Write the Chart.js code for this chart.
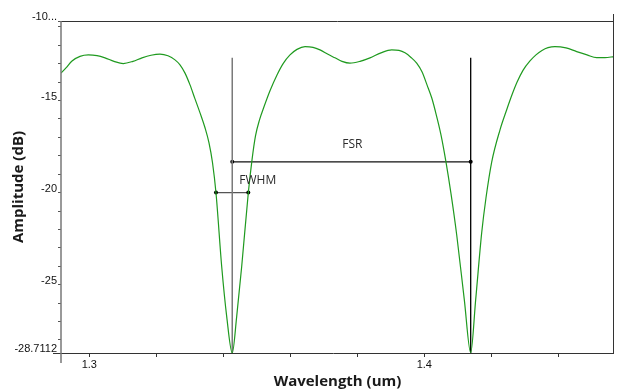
<!DOCTYPE html>
<html>
<head>
<meta charset="utf-8">
<script src="https://cdn.jsdelivr.net/npm/chart.js@4"></script>
<style>
  html, body { margin: 0; padding: 0; background: #fff; }
  #wrap { width: 622px; height: 392px; position: relative; }
</style>
</head>
<body>
<div id="wrap"><canvas id="myCanvas"></canvas></div>
<script>
// spectrum (um, dB)
const wavelength = [
    1.29155, 1.29304, 1.29484, 1.29722, 1.29970, 1.30230, 1.30469, 1.30737, 1.31015, 1.31304,
    1.31573, 1.31842, 1.32110, 1.32349, 1.32558, 1.32707, 1.32857, 1.33006, 1.33155, 1.33305,
    1.33454, 1.33573, 1.33678, 1.33782, 1.33952, 1.34101, 1.34267, 1.34400, 1.34549, 1.34746,
    1.34857, 1.34961, 1.35081, 1.35215, 1.35394, 1.35603, 1.35791, 1.35991, 1.36200, 1.36439,
    1.36678, 1.36887, 1.37125, 1.37334, 1.37543, 1.37782, 1.38081, 1.38379, 1.38707, 1.39027,
    1.39245, 1.39424, 1.39603, 1.39773, 1.39931, 1.40081, 1.40221, 1.40319, 1.40498, 1.40648,
    1.40797, 1.40967, 1.41194, 1.41385, 1.41534, 1.41713, 1.41842, 1.42012, 1.42260, 1.42460,
    1.42618, 1.42767, 1.42946, 1.43155, 1.43334, 1.43513, 1.43693, 1.43901, 1.44230, 1.44549,
    1.44857, 1.45146, 1.45394, 1.45663
];
const amplitude = [
    -13.51, -13.23, -12.85, -12.60, -12.52, -12.56, -12.68, -12.87, -12.99, -12.87,
    -12.68, -12.54, -12.48, -12.57, -12.79, -13.06, -13.51, -14.15, -14.91, -15.67,
    -16.48, -17.30, -18.38, -20.02, -24.01, -26.72, -28.71, -26.72, -24.01, -20.02,
    -18.22, -16.92, -16.05, -15.34, -14.47, -13.61, -12.98, -12.52, -12.22, -12.07,
    -12.11, -12.25, -12.49, -12.68, -12.87, -12.97, -12.87, -12.68, -12.41, -12.25,
    -12.28, -12.41, -12.66, -12.97, -13.44, -14.15, -14.85, -15.50, -16.86, -18.34,
    -20.06, -22.29, -25.81, -28.70, -25.81, -22.19, -20.28, -18.34, -16.59, -15.50,
    -14.69, -14.01, -13.36, -12.85, -12.52, -12.28, -12.13, -12.07, -12.14, -12.34,
    -12.52, -12.67, -12.67, -12.61
];

// annotation marks
const dip1 = [{x: 1.34267, y: -12.68}, {x: 1.34267, y: -28.7112}];
const dip2 = [{x: 1.41385, y: -12.68}, {x: 1.41385, y: -28.7112}];
const fsrArrow = [{x: 1.34267, y: -18.33}, {x: 1.41385, y: -18.33}];
const fwhmArrow = [{x: 1.33782, y: -20.0}, {x: 1.34746, y: -20.0}];
const labels = [
    {text: 'FSR', x: 1.3785, y: -17.4},
    {text: 'FWHM', x: 1.3503, y: -19.36}
];

// axes
const xMin = 1.29155, xMax = 1.45663;
const yMin = -28.7112, yMax = -10.68;
const xTicks = [1.30, 1.32, 1.34, 1.36, 1.38, 1.40, 1.42, 1.44];
const xLabels = ['1.3', '', '', '', '', '1.4', '', ''];
const yTicks = [-10.68, -11, -12, -13, -14, -15, -16, -17, -18, -19, -20,
    -21, -22, -23, -24, -25, -26, -27, -28, -28.7112];
const yLabels = ['-10...', '', '', '', '', '-15', '', '', '', '', '-20',
    '', '', '', '', '-25', '', '', '', '-28.7112'];

const tickFont = {family: 'Liberation Sans, Arial, sans-serif', size: 11};

// frame and annotation text
const framePlugin = {
    id: 'frame',
    afterDatasetsDraw(chart) {
        const {ctx, chartArea: a, scales} = chart;
        ctx.save();
        ctx.lineWidth = 1;
        ctx.strokeStyle = '#333';
        ctx.beginPath();
        ctx.moveTo(a.left, a.top + 0.5);
        ctx.lineTo(a.right, a.top + 0.5);
        ctx.moveTo(a.right - 0.5, a.top - 7);
        ctx.lineTo(a.right - 0.5, a.bottom);
        ctx.moveTo(a.left - 8, a.bottom + 0.5);
        ctx.lineTo(a.right, a.bottom + 0.5);
        ctx.stroke();
        ctx.strokeStyle = '#777';
        ctx.lineWidth = 1.5;
        ctx.beginPath();
        ctx.moveTo(a.left, a.top);
        ctx.lineTo(a.left, a.bottom + 10);
        ctx.stroke();

        ctx.fillStyle = '#2b2b2b';
        ctx.font = '12px "Open Sans", sans-serif';
        ctx.textAlign = 'center';
        ctx.textBaseline = 'middle';
        labels.forEach(l => {
            ctx.fillText(l.text, scales.x.getPixelForValue(l.x), scales.y.getPixelForValue(l.y));
        });
        ctx.restore();
    }
};

const ctx = document.getElementById('myCanvas');
new Chart(ctx, {
    type: 'line',
    data: {
        datasets: [{
            data: wavelength.map((w, i) => ({x: w, y: amplitude[i]})),
            borderColor: '#1f9a1f',
            borderWidth: 1.2,
            pointRadius: 0,
            cubicInterpolationMode: 'monotone'
        }, {
            data: dip1,
            borderColor: '#7a7a7a',
            borderWidth: 1.5,
            pointRadius: 0
        }, {
            data: dip2,
            borderColor: '#000',
            borderWidth: 1.3,
            pointRadius: 0
        }, {
            data: fsrArrow,
            borderColor: '#111',
            borderWidth: 1.3,
            pointRadius: 2,
            pointBackgroundColor: '#000',
            pointBorderWidth: 0
        }, {
            data: fwhmArrow,
            borderColor: '#555',
            borderWidth: 1.3,
            pointRadius: 2,
            pointBackgroundColor: '#000',
            pointBorderWidth: 0
        }]
    },
    options: {
        responsive: true,
        maintainAspectRatio: false,
        animation: false,
        layout: {padding: {top: 21, right: 8, left: 0, bottom: 0}},
        plugins: {legend: {display: false}, tooltip: {enabled: false}},
        scales: {
            x: {
                type: 'linear',
                min: xMin,
                max: xMax,
                afterBuildTicks: s => { s.ticks = xTicks.map(v => ({value: v})); },
                afterFit: s => { s.height = 39; },
                border: {display: false},
                grid: {drawOnChartArea: false, tickLength: 4, color: '#333'},
                ticks: {
                    autoSkip: false,
                    maxRotation: 0,
                    padding: 1,
                    color: '#111',
                    font: tickFont,
                    callback: (v, i) => xLabels[i]
                },
                title: {
                    display: true,
                    text: 'Wavelength (um)',
                    color: '#1a1a1a',
                    font: {family: 'Open Sans, sans-serif', size: 15, weight: 'bold'},
                    padding: {top: 0, bottom: 1}
                }
            },
            y: {
                type: 'linear',
                min: yMin,
                max: yMax,
                afterBuildTicks: s => { s.ticks = yTicks.map(v => ({value: v})); },
                afterFit: s => { s.width = 61; },
                border: {display: false},
                grid: {drawOnChartArea: false, tickLength: 3, color: '#555'},
                ticks: {
                    autoSkip: false,
                    padding: 1,
                    labelOffset: -4,
                    color: '#111',
                    font: tickFont,
                    callback: (v, i) => yLabels[i]
                },
                title: {
                    display: true,
                    text: 'Amplitude (dB)',
                    color: '#1a1a1a',
                    font: {family: 'Open Sans, sans-serif', size: 15, weight: 'bold'},
                    padding: {top: 10, bottom: 0}
                }
            }
        }
    },
    plugins: [framePlugin]
});
</script>
</body>
</html>
